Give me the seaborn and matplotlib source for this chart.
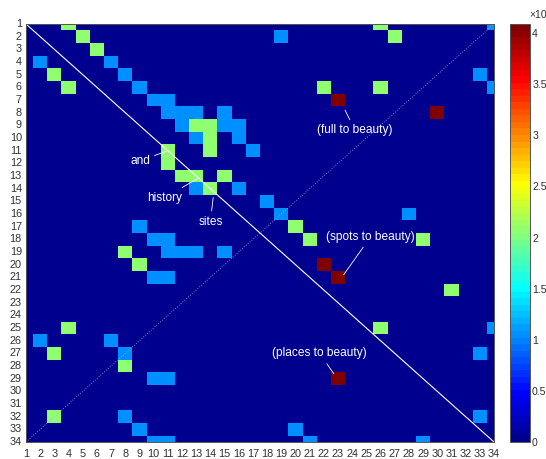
import numpy as np
import pandas as pd
import matplotlib
matplotlib.use("Agg")
import matplotlib.pyplot as plt
from matplotlib.colors import ListedColormap
import seaborn as sns

# ---- data ----
n = 34
labels = [str(i) for i in range(1, n + 1)]
BLUE, GREEN, RED = 1.07, 2.07, 4.09
vmax = 4.09

blue_cells = [(1, 34), (2, 19), (4, 2), (4, 7), (5, 8), (5, 33), (6, 9), (6, 34),
              (7, 10), (7, 11), (8, 11), (8, 12), (8, 13), (8, 15), (9, 12), (9, 15),
              (9, 16), (10, 13), (10, 16), (11, 17), (14, 13), (14, 16), (15, 18),
              (16, 19), (16, 28), (17, 9), (18, 10), (18, 11), (19, 11), (19, 12),
              (19, 13), (19, 15), (21, 10), (21, 11), (25, 34), (26, 2), (26, 7),
              (27, 8), (27, 33), (29, 10), (29, 11), (32, 8), (32, 33), (33, 9),
              (33, 20), (34, 10), (34, 11), (34, 21), (34, 29)]
green_cells = [(1, 4), (1, 26), (2, 5), (2, 27), (3, 6), (5, 3), (6, 4), (6, 22),
               (6, 26), (9, 13), (9, 14), (10, 14), (11, 11), (11, 14), (12, 11),
               (13, 12), (13, 13), (13, 15), (14, 14), (17, 20), (18, 21), (18, 29),
               (19, 8), (20, 9), (22, 31), (25, 4), (25, 26), (27, 3), (28, 8), (32, 3)]
red_cells = [(7, 23), (8, 30), (20, 22), (21, 23), (29, 23)]

# annotations: text, (x, y) target, (x, y) text centre  -- in 1-based matrix coords
ann_texts = ["and", "history", "sites", "(full to beauty)", "(spots to beauty)", "(places to beauty)"]
ann_targets = [(11.0, 11.0), (13.1, 13.2), (14.2, 14.7), (23.5, 7.8), (23.4, 20.8), (22.7, 28.6)]
ann_text_pos = [(9.04, 11.8), (10.8, 14.7), (14.0, 16.6), (24.2, 9.4), (25.3, 17.8), (21.7, 27.0)]

cbar_ticks = [0, 0.5, 1, 1.5, 2, 2.5, 3, 3.5, 4]

mat = np.zeros((n, n))
for (r, c) in blue_cells:
    mat[r - 1, c - 1] = BLUE
for (r, c) in green_cells:
    mat[r - 1, c - 1] = GREEN
for (r, c) in red_cells:
    mat[r - 1, c - 1] = RED
df = pd.DataFrame(mat, index=labels, columns=labels)


# ---- MATLAB-style jet colormap (64 levels) ----
def matlab_jet(m=64):
    k = int(np.ceil(m / 4))
    u = np.concatenate([np.arange(1, k + 1) / k, np.ones(k - 1), np.arange(k, 0, -1) / k])
    g = int(np.ceil(k / 2)) - (1 if m % 4 == 1 else 0) + np.arange(1, len(u) + 1)
    r = g + k
    b = g - k
    J = np.zeros((m, 3))
    for idx, col in ((r, 0), (g, 1), (b, 2)):
        ok = (idx >= 1) & (idx <= m)
        J[idx[ok] - 1, col] = u[ok]
    return ListedColormap(J)


cmap = matlab_jet(64)

# ---- plot ----
sns.set_style("white")
plt.rcParams['font.family'] = ['Liberation Sans', 'DejaVu Sans']

W, H = 546, 459
fig = plt.figure(figsize=(W / 100, H / 100), dpi=100)
ax = fig.add_axes([26 / W, 1 - 442 / H, 468 / W, 418 / H])
cax = fig.add_axes([509.5 / W, 1 - 442 / H, 20.5 / W, 418 / H])

sns.heatmap(df, ax=ax, cbar_ax=cax, cmap=cmap, vmin=0, vmax=vmax,
            xticklabels=labels, yticklabels=labels)

ax.set_xlim(0.5, n - 0.5)
ax.set_ylim(n - 0.5, 0.5)
ax.set_xticks(np.arange(n) + 0.5)
ax.set_xticklabels(labels, rotation=0)
ax.set_yticks(np.arange(n) + 0.5)
ax.set_yticklabels(labels, rotation=0)
ax.tick_params(direction='in', top=True, right=True, bottom=True, left=True,
               length=3.5, width=0.6, color='#404040', labelsize=7.8,
               labelcolor='#303030', pad=3)
ax.tick_params(axis='x', pad=5)
ax.set_xlabel('')
ax.set_ylabel('')
for s in ax.spines.values():
    s.set_visible(True)
    s.set_color('#555555')
    s.set_linewidth(0.7)

# diagonals
ax.plot([0, 1], [1, 0], transform=ax.transAxes, color='white', lw=0.8)
ax.plot([0, 1], [0, 1], transform=ax.transAxes, color='#a8a8e8', lw=0.6,
        linestyle=(0, (1, 2)))

# annotations
for t, (tx, ty), (px, py) in zip(ann_texts, ann_targets, ann_text_pos):
    ax.annotate(t, xy=(tx - 0.5, ty - 0.5), xytext=(px - 0.5, py - 0.5),
                textcoords='data', ha='center', va='center', color='white',
                fontsize=8.6,
                arrowprops=dict(arrowstyle='-', color='white', lw=0.6,
                                shrinkA=1, shrinkB=0))

# colorbar
cb = ax.collections[0].colorbar
cb.set_ticks(cbar_ticks)
cb.set_ticklabels(['%g' % v for v in cbar_ticks])
cb.outline.set_visible(True)
cb.outline.set_linewidth(0.7)
cb.outline.set_edgecolor('#555555')
cax.tick_params(direction='in', length=3.5, width=0.6, color='#404040',
                labelsize=7.6, labelcolor='#303030', pad=1.5)
fig.text(529 / W, 1 - 15.5 / H, '×10', fontsize=7.5, color='#303030',
         ha='left', va='center')

fig.savefig('out.png', dpi=100)
